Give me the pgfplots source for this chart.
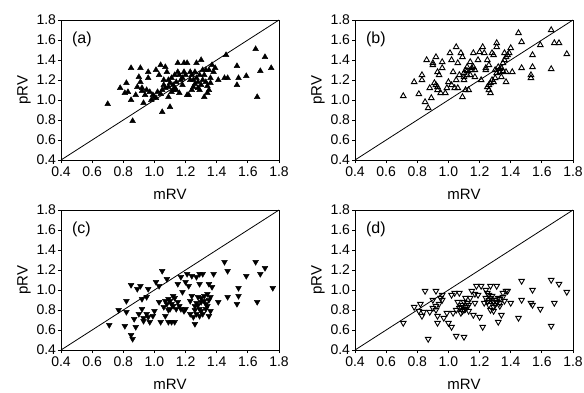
\documentclass[border=0pt]{standalone}
\usepackage{pgfplots}
\pgfplotsset{compat=1.18}
\usepackage{fontspec}
\setmainfont{Liberation Sans}
\tikzset{plab/.style={anchor=west, inner sep=0pt, font=\fontsize{16}{17}\selectfont}}
\pgfplotsset{
  panel/.style={
    width=218pt, height=140pt, scale only axis,
    xmin=0.4, xmax=1.8, ymin=0.4, ymax=1.8,
    xtick={0.4,0.6,0.8,1.0,1.2,1.4,1.6,1.8},
    ytick={0.4,0.6,0.8,1.0,1.2,1.4,1.6,1.8},
    tick align=outside, xtick pos=bottom, ytick pos=left,
    major tick length=3pt,
    tick style={black, line width=0.8pt},
    axis line style={black, line width=0.8pt},
    /pgf/number format/assume math mode=true,
    /pgf/number format/fixed, /pgf/number format/fixed zerofill, /pgf/number format/precision=1,
    xticklabel style={font=\fontsize{14}{15}\selectfont, yshift=0pt},
    yticklabel style={font=\fontsize{14}{15}\selectfont, xshift=1.5pt},
    xlabel={mRV}, ylabel={pRV},
    every axis x label/.style={at={(rel axis cs:0.5,0)}, anchor=center, yshift=-34pt, font=\fontsize{15}{16}\selectfont},
    every axis y label/.style={at={(rel axis cs:0,0.5)}, anchor=center, xshift=-37pt, rotate=90, font=\fontsize{15}{16}\selectfont},
    clip=false,
  },
  diag/.style={black, line width=0.8pt, no marks},
  pts/.style={only marks, black, mark size=3.3pt},
}
\begin{document}
\begin{tikzpicture}
\useasboundingbox (0,-392pt) rectangle (584pt,0);
% (a)
\begin{axis}[panel, at={(61pt,-160pt)}, anchor=south west]
\addplot[diag] coordinates {(0.4,0.4) (1.8,1.8)};
\addplot[pts, mark=triangle*] coordinates {
(0.70,0.96) (0.78,1.12) (0.82,1.17) (0.81,1.07) (0.83,1.08) (0.85,1.32) (0.85,1.00) (0.86,0.79)
(0.88,1.05) (0.89,1.13) (0.90,1.23) (0.91,1.32) (0.91,1.18) (0.92,1.09) (0.93,0.97) (0.95,1.10)
(0.96,1.28) (0.96,1.22) (0.94,1.05) (0.98,1.00) (0.99,1.05) (1.01,1.30) (1.01,1.02) (1.03,1.25)
(1.04,1.35) (1.05,0.88) (1.05,1.10) (1.06,1.20) (1.07,1.33) (1.08,1.28) (1.09,1.03) (1.09,1.13)
(1.10,1.17) (1.10,0.93) (1.11,1.22) (1.12,1.10) (1.12,1.15) (1.13,1.25) (1.14,1.18) (1.15,1.37)
(1.15,1.28) (1.16,1.07) (1.18,1.22) (1.19,1.28) (1.19,1.37) (1.21,1.05) (1.21,1.37) (1.22,1.05)
(1.23,1.28) (1.24,1.25) (1.25,1.13) (1.25,1.20) (1.26,1.28) (1.27,1.37) (1.28,1.12) (1.28,1.18)
(1.29,1.25) (1.30,1.15) (1.30,1.40) (1.31,1.30) (1.32,1.03) (1.33,1.18) (1.34,1.07) (1.35,1.10)
(1.35,1.30) (1.36,1.22) (1.37,1.35) (1.38,1.28) (1.39,1.32) (1.41,1.20) (1.45,1.22) (1.46,1.45)
(1.47,1.22) (1.53,1.15) (1.53,1.34) (1.54,1.22) (1.59,1.24) (1.65,1.51) (1.66,1.03) (1.68,1.29)
(1.71,1.43) (1.75,1.32) (1.07,1.12) (1.11,1.08) (1.17,1.20) (1.26,1.16) (1.31,1.20) (1.34,1.14)
(0.92,1.12) (1.00,1.03) (1.13,1.12) (1.24,1.10)
(1.02,1.08) (1.06,1.15) (1.09,1.20) (1.14,1.10) (1.18,1.15) (1.20,1.25) (1.23,1.20) (1.27,1.22)
(1.29,1.10) (1.32,1.25) (1.36,1.17) (1.33,1.30) (0.97,1.08) (1.04,1.06) (1.16,1.25)
};
\node[plab] at (rel axis cs:0.05,0.86) {(a)};
\end{axis}
% (b)
\begin{axis}[panel, at={(355pt,-160pt)}, anchor=south west]
\addplot[diag] coordinates {(0.4,0.4) (1.8,1.8)};
\addplot[pts, mark=triangle, line width=0.9pt, mark size=3.2pt] coordinates {
(0.71,1.04) (0.78,1.18) (0.81,1.06) (0.83,1.25) (0.83,1.20) (0.85,0.98) (0.86,1.40) (0.87,0.92)
(0.88,1.12) (0.89,1.02) (0.90,1.37) (0.90,1.35) (0.91,1.17) (0.92,1.43) (0.93,1.28) (0.93,1.13)
(0.94,1.25) (0.95,1.07) (0.96,1.38) (0.96,1.32) (0.98,1.07) (0.99,1.12) (1.00,1.18) (1.01,1.47)
(1.02,1.40) (1.03,1.28) (1.04,1.12) (1.05,1.53) (1.05,1.20) (1.06,1.37) (1.06,1.12) (1.07,1.25)
(1.08,1.47) (1.09,1.03) (1.09,1.43) (1.10,1.20) (1.11,1.30) (1.11,1.10) (1.12,1.25) (1.13,1.10)
(1.14,1.38) (1.15,1.32) (1.16,1.47) (1.17,1.23) (1.17,1.30) (1.19,1.40) (1.20,1.48) (1.21,1.20)
(1.22,1.53) (1.23,1.47) (1.24,1.30) (1.25,1.13) (1.25,1.40) (1.26,1.35) (1.27,1.07) (1.28,1.20)
(1.28,1.47) (1.29,1.45) (1.30,1.22) (1.31,1.57) (1.31,1.53) (1.32,1.33) (1.33,1.28) (1.34,1.23)
(1.35,1.37) (1.36,1.47) (1.37,1.18) (1.37,1.28) (1.37,1.43) (1.39,1.47) (1.40,1.52) (1.41,1.28)
(1.45,1.67) (1.47,1.58) (1.47,1.32) (1.53,1.25) (1.54,1.33) (1.54,1.45) (1.53,1.22) (1.59,1.55)
(1.66,1.70) (1.66,1.31) (1.68,1.57) (1.71,1.57) (1.76,1.46) (0.93,1.10) (1.10,1.27) (1.15,1.30)
(1.26,1.15) (1.30,1.30) (1.34,1.32) (1.12,1.33)
(1.10,1.23) (1.12,1.29) (1.14,1.25) (1.16,1.33) (1.27,1.17) (1.29,1.18) (1.31,1.27) (1.33,1.31)
(1.35,1.29) (1.36,1.40) (1.38,1.45) (1.26,1.10) (0.92,1.15) (1.02,1.15) (1.24,1.32)
};
\node[plab] at (rel axis cs:0.05,0.86) {(b)};
\end{axis}
% (c)
\begin{axis}[panel, at={(61pt,-350pt)}, anchor=south west]
\addplot[diag] coordinates {(0.4,0.4) (1.8,1.8)};
\addplot[pts, mark=triangle*, every mark/.append style={rotate=180}] coordinates {
(0.71,0.65) (0.77,0.80) (0.81,0.64) (0.82,0.78) (0.82,0.89) (0.85,0.55) (0.85,1.05) (0.86,0.51)
(0.87,0.71) (0.88,0.63) (0.89,1.01) (0.90,0.76) (0.91,1.04) (0.92,0.91) (0.92,0.81) (0.93,0.69)
(0.95,0.76) (0.95,0.93) (0.96,1.01) (0.97,0.68) (0.99,0.74) (1.00,0.79) (1.01,1.08) (1.03,0.88)
(1.03,1.04) (1.04,0.68) (1.05,1.19) (1.06,0.83) (1.07,0.74) (1.08,1.11) (1.09,0.68) (1.09,0.91)
(1.10,0.81) (1.11,0.68) (1.11,0.86) (1.12,0.94) (1.13,0.68) (1.14,0.81) (1.15,1.06) (1.15,0.88)
(1.17,1.13) (1.17,0.81) (1.18,0.98) (1.19,0.79) (1.20,1.08) (1.21,1.16) (1.22,1.04) (1.23,0.89)
(1.23,0.76) (1.24,1.14) (1.24,0.94) (1.25,0.73) (1.26,0.84) (1.26,0.66) (1.27,1.13) (1.28,0.93)
(1.29,1.06) (1.29,0.81) (1.29,1.16) (1.30,0.88) (1.31,0.76) (1.31,1.16) (1.32,0.94) (1.33,0.86)
(1.33,0.81) (1.34,0.96) (1.35,0.74) (1.35,1.06) (1.36,0.93) (1.37,1.03) (1.38,1.16) (1.41,0.88)
(1.45,1.28) (1.47,1.19) (1.47,0.93) (1.53,0.86) (1.54,0.94) (1.54,1.02) (1.59,1.14) (1.65,1.28)
(1.66,0.88) (1.68,1.16) (1.71,1.22) (1.76,1.02) (0.93,0.72) (1.12,0.84) (1.27,0.87) (1.30,0.79)
(1.35,0.90) (1.07,0.89)
(1.08,0.86) (1.10,0.89) (1.13,0.92) (1.16,0.84) (1.26,0.80) (1.28,0.85) (1.30,0.92) (1.32,0.89)
(1.34,0.84) (1.36,0.79) (1.27,0.76) (1.29,0.74) (1.09,0.80) (0.96,0.73) (1.20,0.81)
};
\node[plab] at (rel axis cs:0.05,0.86) {(c)};
\end{axis}
% (d)
\begin{axis}[panel, at={(355pt,-350pt)}, anchor=south west]
\addplot[diag] coordinates {(0.4,0.4) (1.8,1.8)};
\addplot[pts, mark=triangle, line width=0.9pt, mark size=3.2pt, every mark/.append style={rotate=180}] coordinates {
(0.71,0.67) (0.78,0.83) (0.81,0.79) (0.82,0.86) (0.83,0.74) (0.84,0.78) (0.85,0.99) (0.87,0.51)
(0.88,0.78) (0.90,0.90) (0.92,0.99) (0.92,0.84) (0.93,0.67) (0.93,0.74) (0.94,0.86) (0.95,0.92)
(0.96,0.95) (0.97,0.72) (0.99,0.77) (1.00,0.67) (1.02,0.95) (1.02,0.63) (1.03,0.77) (1.04,0.97)
(1.05,0.54) (1.05,0.80) (1.06,0.88) (1.07,0.97) (1.08,0.77) (1.09,0.85) (1.10,0.80) (1.10,0.53)
(1.11,0.92) (1.12,0.83) (1.13,0.79) (1.14,0.92) (1.15,0.99) (1.16,0.75) (1.17,0.87) (1.18,1.04)
(1.19,0.95) (1.20,0.73) (1.21,1.04) (1.22,0.63) (1.23,0.87) (1.24,1.00) (1.24,0.92) (1.25,0.97)
(1.26,0.85) (1.27,1.04) (1.27,0.80) (1.28,0.90) (1.28,0.94) (1.29,0.79) (1.30,0.85) (1.31,1.04)
(1.32,0.92) (1.32,0.68) (1.33,0.84) (1.34,0.75) (1.35,0.97) (1.36,0.89) (1.37,0.99) (1.38,0.99)
(1.40,0.87) (1.45,0.72) (1.47,1.09) (1.47,0.90) (1.53,0.87) (1.54,1.00) (1.54,0.85) (1.59,0.81)
(1.66,1.10) (1.66,0.64) (1.68,0.87) (1.71,1.06) (1.76,0.98) (0.90,0.82) (1.08,0.83) (1.12,0.87)
(1.26,0.90) (1.29,0.88) (1.33,0.91) (0.96,0.90)
(1.07,0.82) (1.09,0.79) (1.11,0.81) (1.13,0.85) (1.25,0.88) (1.27,0.92) (1.29,0.83) (1.31,0.88)
(1.33,0.87) (1.35,0.93) (1.26,0.95) (1.30,0.90) (0.92,0.80) (1.10,0.88) (1.17,0.96)
};
\node[plab] at (rel axis cs:0.05,0.86) {(d)};
\end{axis}
\end{tikzpicture}
\end{document}
